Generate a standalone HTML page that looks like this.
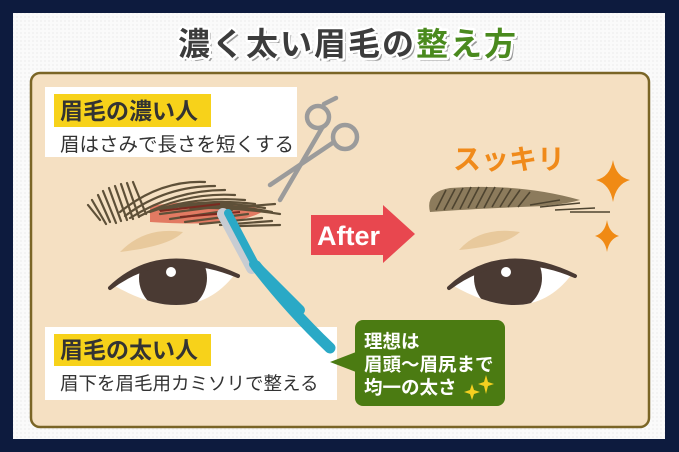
<!DOCTYPE html>
<html><head><meta charset="utf-8"><style>
*{margin:0;padding:0}
body{width:679px;height:452px;overflow:hidden;background:#0d1b3e;font-family:"Liberation Sans","Noto Sans CJK JP",sans-serif}
</style></head><body>
<svg width="679" height="452" viewBox="0 0 679 452" xmlns="http://www.w3.org/2000/svg" style="display:block">
<defs>
<pattern id="dots" width="4" height="4" patternUnits="userSpaceOnUse"><rect width="4" height="4" fill="#fafafa"/><circle cx="1" cy="1" r="0.6" fill="#e2e2e2"/></pattern>
<clipPath id="eyeL"><path d="M113,285 Q165,245 235,274 Q192,330 113,285Z"/></clipPath>
<clipPath id="eyeR"><path d="M452,285 Q505,245 572,274 Q530,330 452,285Z"/></clipPath>
</defs>
<rect x="0" y="0" width="679" height="452" fill="#0d1b3e"/>
<rect x="13" y="13" width="652" height="426" fill="url(#dots)"/>
<g font-size="32" font-weight="bold" letter-spacing="2">
<text x="181" y="58" fill="#9a9a9a">濃く太い眉毛の整え方</text>
<text x="178" y="55" fill="#3c3c3c" stroke="#fff" stroke-width="5" paint-order="stroke" stroke-linejoin="round">濃く太い眉毛の<tspan fill="#4a8a1e">整え方</tspan></text>
</g>
<rect x="31" y="73" width="618" height="354" rx="9" fill="#f5e0c2" stroke="#7a6526" stroke-width="2.5"/>
<rect x="45" y="87" width="252" height="70" fill="#fff"/>
<rect x="54" y="94" width="157" height="33" fill="#f7d21a"/>
<text x="60" y="119" font-size="23" font-weight="bold" fill="#333">眉毛の濃い人</text>
<text x="60" y="151" font-size="19.5" fill="#333">眉はさみで長さを短くする</text>
<g stroke="#9b9b9b" fill="none" stroke-width="4.5" stroke-linecap="round">
<circle cx="318" cy="117" r="11"/>
<circle cx="345" cy="137" r="12"/>
<path d="M322,128 L280,200"/>
<path d="M334,142 L270,185"/>
<path d="M324,104 L336,98"/>
</g>
<path d="M150,206 Q210,196 265,210 Q240,228 150,222Z" fill="#e27a62"/>
<g stroke="#5e5038" stroke-width="2.2" stroke-linecap="round" fill="none">
<path d="M88,205 L100,220 M92,200 L106,224 M98,195 L110,222 M103,191 L116,223 M109,188 L121,221 M115,186 L127,220 M121,184 L133,219 M127,183 L139,217 M133,182 L146,214"/>
<path d="M120,212 Q160,180 205,182 M125,216 Q165,186 215,186 M130,218 Q175,190 225,190 M140,216 Q185,192 235,195 M150,212 Q195,196 245,200 M160,210 Q205,198 255,204 M170,208 Q215,200 265,208 M180,207 Q225,203 272,212 M190,208 Q235,207 280,214"/>
<path d="M160,214 L215,207 M170,219 L232,210 M185,222 L248,214 M200,224 L262,218 M220,225 L272,221 M240,226 L280,225 M225,208 L275,204"/>
</g>
<path d="M160,211 L220,204 M180,217 L240,212" stroke="#7a2a20" stroke-width="2"/>
<path d="M120,252 Q145,226 183,232 Q170,246 120,252Z" fill="#e8c99c"/>
<path d="M113,285 Q165,245 235,274 Q192,330 113,285Z" fill="#fff"/>
<g clip-path="url(#eyeL)"><circle cx="173" cy="278" r="34" fill="#4a3a33"/></g>
<circle cx="171" cy="272" r="5" fill="#fff"/>
<path d="M110,288 Q160,240 238,276 Q165,246 110,288Z" fill="#4a3a33" stroke="#4a3a33" stroke-width="4" stroke-linejoin="round"/>
<path d="M223,214 L252,268" stroke="#c7ccd2" stroke-width="12" stroke-linecap="round"/>
<path d="M228,213 L256,266" stroke="#2aa9c6" stroke-width="8" stroke-linecap="round"/>
<path d="M254,264 L300,310" stroke="#2aa9c6" stroke-width="10" stroke-linecap="round"/>
<rect x="45" y="327" width="292" height="73" fill="#fff"/>
<rect x="54" y="334" width="157" height="32" fill="#f7d21a"/>
<text x="60" y="358" font-size="23" font-weight="bold" fill="#333">眉毛の太い人</text>
<text x="60" y="390" font-size="18.5" fill="#333">眉下を眉毛用カミソリで整える</text>
<path d="M256,266 Q290,310 330,348" stroke="#2aa9c6" stroke-width="11" stroke-linecap="round" fill="none"/>
<rect x="355" y="320" width="150" height="86" rx="8" fill="#4b7b12"/>
<path d="M356,352 L330,362 L356,372Z" fill="#4b7b12"/>
<g font-size="18.5" font-weight="bold" fill="#fff">
<text x="364" y="348">理想は</text>
<text x="364" y="371">眉頭〜眉尻まで</text>
<text x="364" y="394">均一の太さ</text>
</g>
<path d="M472,384 l2,6 6,2 -6,2 -2,6 -2,-6 -6,-2 6,-2Z" fill="#f5d020"/>
<path d="M486,375 l2,7 6,2 -6,2 -2,8 -2,-8 -6,-2 6,-2Z" fill="#f5d020"/>
<path d="M311,215 L383,215 L383,205 L415,234 L383,263 L383,255 L311,255Z" fill="#e8474f"/>
<text x="317" y="245" font-size="27" font-weight="bold" fill="#fff">After</text>
<text x="453" y="169" font-size="28" font-weight="bold" fill="#f08a1a">スッキリ</text>
<path d="M613,160 Q616,177 630,180 Q616,184 613,202 Q610,184 596,180 Q610,177 613,160Z" fill="#f08a14"/>
<path d="M607,220 Q609,233 619,236 Q609,239 607,252 Q605,239 595,236 Q605,233 607,220Z" fill="#f08a14"/>
<path d="M430,212 Q425,192 450,188 Q520,183 580,200 Q560,206 520,207 Q470,209 430,212Z" fill="#8c7b5c"/>
<g stroke="#4e4430" stroke-width="1.6">
<path d="M436,210 L446,190 M444,210 L455,189 M452,209 L463,188 M460,209 L471,187 M468,208 L479,187 M476,208 L487,187 M484,208 L495,187 M492,207 L503,188 M500,207 L511,189 M508,207 L520,190 M518,207 L530,192"/>
<path d="M530,205 L560,200 M540,207 L580,203 M555,210 L595,208 M570,212 L610,212"/>
</g>
<path d="M459,250 Q480,226 520,232 Q505,246 459,250Z" fill="#e8c99c"/>
<path d="M452,285 Q505,245 572,274 Q530,330 452,285Z" fill="#fff"/>
<g clip-path="url(#eyeR)"><circle cx="508" cy="278" r="34" fill="#4a3a33"/></g>
<circle cx="506" cy="272" r="5" fill="#fff"/>
<path d="M449,288 Q500,240 575,276 Q505,246 449,288Z" fill="#4a3a33" stroke="#4a3a33" stroke-width="4" stroke-linejoin="round"/>
</svg>
</body></html>
